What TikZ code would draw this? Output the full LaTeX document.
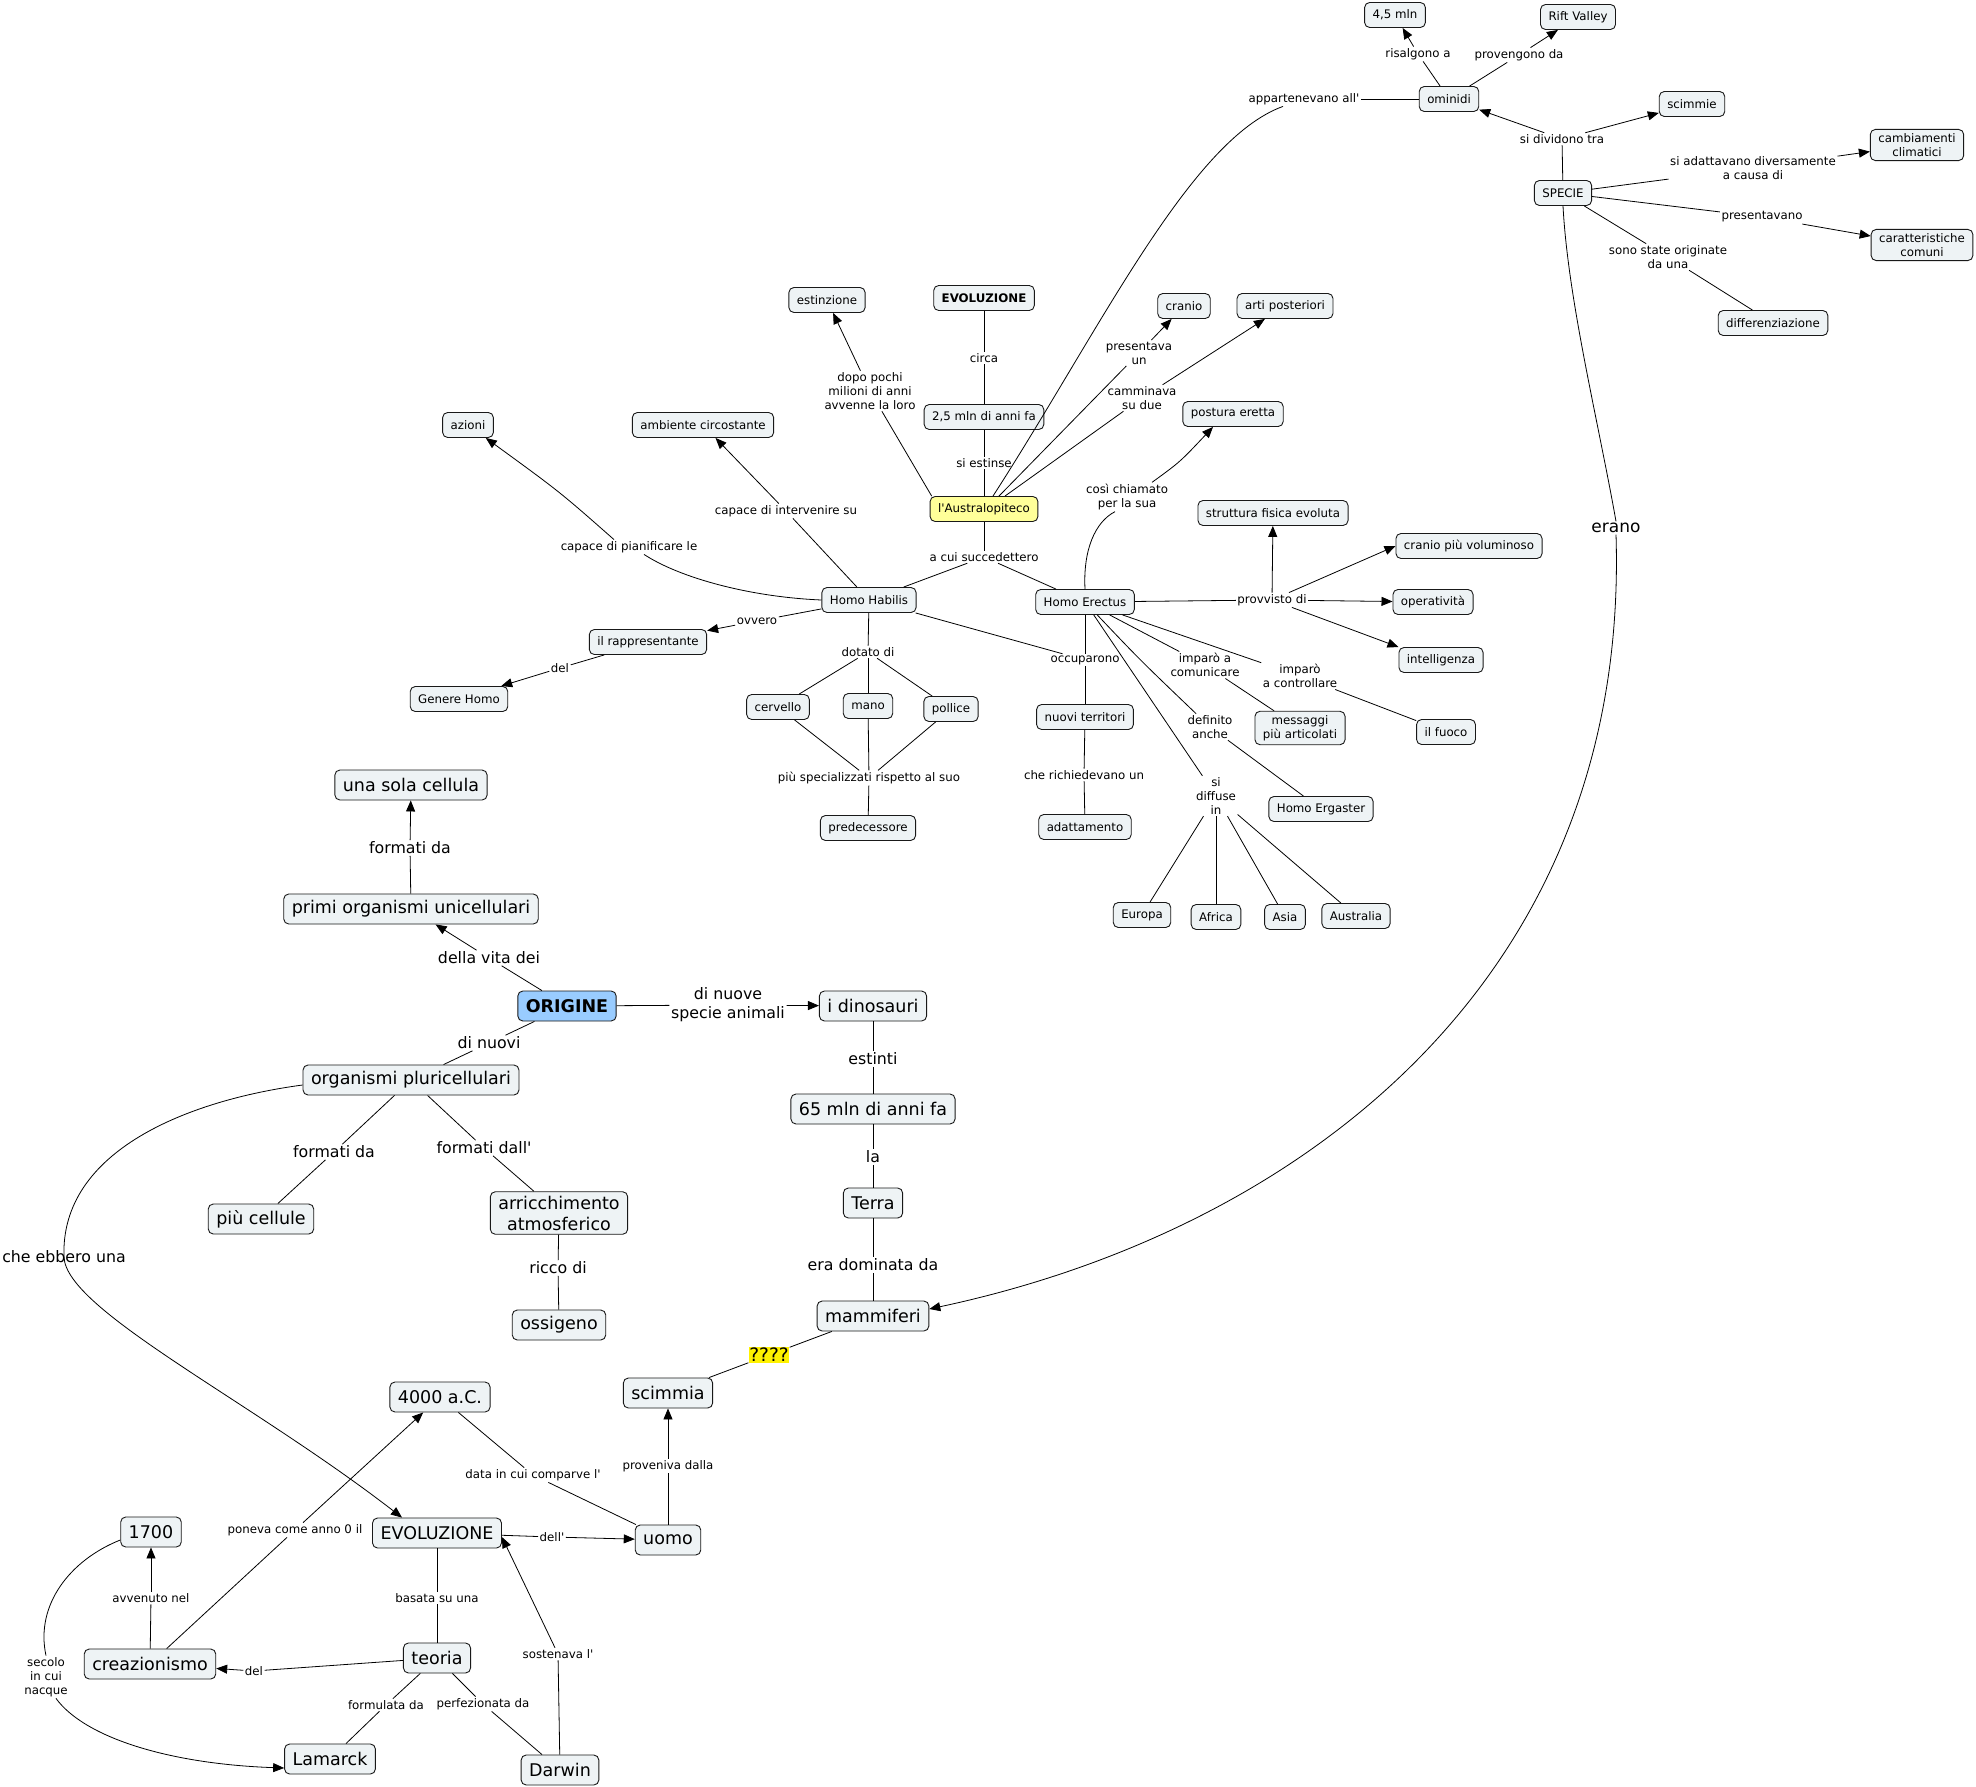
\documentclass[tikz,border=0pt]{standalone}
\usepackage{fontspec}
\setmainfont{DejaVu Sans}
\usetikzlibrary{arrows.meta}
\definecolor{nodefill}{HTML}{EEF3F5}
\definecolor{origfill}{HTML}{99CCFF}
\definecolor{austrfill}{HTML}{FFFF99}
\newcommand\fS{\fontsize{11.8pt}{14pt}\selectfont}
\newcommand\fL{\fontsize{17.5pt}{21pt}\selectfont}
\newcommand\fLl{\fontsize{15.8pt}{19pt}\selectfont}
\newcommand\ap{\textquotesingle}
\begin{document}
\begin{tikzpicture}[x=1pt,y=-1pt,
  base/.style={draw=black!90, line width=0.9pt, rounded corners=5pt, fill=nodefill, inner xsep=8pt, inner ysep=4pt, align=center},
  sbox/.style={base, font=\fS, minimum height=25pt},
  lbox/.style={base, font=\fL, minimum height=30pt},
  slab/.style={font=\fS, inner sep=1.5pt, align=center},
  llab/.style={font=\fLl, inner sep=1.5pt, align=center},
  conn/.style={draw=black, line width=0.8pt},
  arr/.style={conn, -{Triangle[length=11pt,width=9pt]}}]
\useasboundingbox (0,0) rectangle (1976,1787);
\fill[white] (0,0) rectangle (1976,1787);

% ---------- small nodes ----------
\node[sbox] (n45) at (1395,15) {4,5 mln};
\node[sbox] (rift) at (1578,17) {Rift Valley};
\node[sbox] (omin) at (1449,99) {ominidi};
\node[sbox] (scimmie) at (1692,104) {scimmie};
\node[sbox] (specie) at (1563,193) {SPECIE};
\node[sbox] (camb) at (1917,145) {cambiamenti\\climatici};
\node[sbox] (carat) at (1922,245) {caratteristiche\\comuni};
\node[sbox] (diff) at (1773,323) {differenziazione};
\node[sbox] (arti) at (1285,306) {arti posteriori};
\node[sbox] (estinz) at (827,300) {estinzione};
\node[sbox, font=\fS\bfseries] (evoT) at (984,298) {EVOLUZIONE};
\node[sbox] (mln25) at (984,417) {2,5 mln di anni fa};
\node[sbox, fill=austrfill] (austr) at (984,509) {l\ap Australopiteco};
\node[sbox] (cranio) at (1184,306) {cranio};
\node[sbox] (postura) at (1233,414) {postura eretta};
\node[sbox] (strutt) at (1273,513) {struttura fisica evoluta};
\node[sbox] (cranioV) at (1469,546) {cranio più voluminoso};
\node[sbox] (operat) at (1433,602) {operatività};
\node[sbox] (intell) at (1441,660) {intelligenza};
\node[sbox] (habilis) at (869,600) {Homo Habilis};
\node[sbox] (erectus) at (1085,602) {Homo Erectus};
\node[sbox] (azioni) at (468,425) {azioni};
\node[sbox] (ambiente) at (703,425) {ambiente circostante};
\node[sbox] (rappr) at (648,642) {il rappresentante};
\node[sbox] (genere) at (459,699) {Genere Homo};
\node[sbox] (cervello) at (778,707) {cervello};
\node[sbox] (mano) at (868,706) {mano};
\node[sbox] (pollice) at (951,709) {pollice};
\node[sbox] (predec) at (868,828) {predecessore};
\node[sbox] (nuovi) at (1085,717) {nuovi territori};
\node[sbox] (adatt) at (1085,827) {adattamento};
\node[sbox] (messaggi) at (1300,728) {messaggi\\più articolati};
\node[sbox] (fuoco) at (1446,732) {il fuoco};
\node[sbox] (ergaster) at (1321,809) {Homo Ergaster};
\node[sbox] (europa) at (1142,915) {Europa};
\node[sbox] (africa) at (1216,917) {Africa};
\node[sbox] (asia) at (1285,917) {Asia};
\node[sbox] (australia) at (1356,916) {Australia};

% ---------- large nodes ----------
\node[lbox] (sola) at (411,785) {una sola cellula};
\node[lbox] (primi) at (411,909) {primi organismi unicellulari};
\node[lbox, fill=origfill, font=\fL\bfseries] (origine) at (567,1006) {ORIGINE};
\node[lbox] (pluri) at (411,1080) {organismi pluricellulari};
\node[lbox] (dino) at (873,1006) {i dinosauri};
\node[lbox] (mln65) at (873,1109) {65 mln di anni fa};
\node[lbox] (terra) at (873,1203) {Terra};
\node[lbox] (mammi) at (873,1316) {mammiferi};
\node[lbox] (piuc) at (261,1219) {più cellule};
\node[lbox] (arricc) at (559,1213) {arricchimento\\atmosferico};
\node[lbox] (ossig) at (559,1325) {ossigeno};
\node[lbox] (scimmia) at (668,1393) {scimmia};
\node[lbox] (a4000) at (440,1397) {4000 a.C.};
\node[lbox] (y1700) at (151,1532) {1700};
\node[lbox] (evoB) at (437,1533) {EVOLUZIONE};
\node[lbox] (uomo) at (668,1540) {uomo};
\node[lbox] (teoria) at (437,1658) {teoria};
\node[lbox] (creaz) at (150,1664) {creazionismo};
\node[lbox] (lamarck) at (330,1759) {Lamarck};
\node[lbox] (darwin) at (560,1770) {Darwin};

% ---------- linking phrases ----------
\node[slab] (lRisal) at (1418,54) {risalgono a};
\node[slab] (lProv) at (1519,55) {provengono da};
\node[slab] (lAppart) at (1304,99) {appartenevano all\ap};
\node[slab] (lDivid) at (1562,139) {si dividono tra};
\node[slab] (lAdatt) at (1753,168) {si adattavano diversamente\\a causa di};
\node[slab] (lPres) at (1762,217) {presentavano};
\node[slab] (lOrig) at (1668,257) {sono state originate\\da una};
\node[font=\fontsize{17pt}{20pt}\selectfont, inner sep=1.5pt] (lErano) at (1616,528) {erano};
\node[slab] (lDopo) at (870,391) {dopo pochi\\milioni di anni\\avvenne la loro};
\node[slab] (lCirca) at (984,358) {circa};
\node[slab] (lEstinse) at (984,463) {si estinse};
\node[slab] (lPresUn) at (1139,353) {presentava\\un};
\node[slab] (lCammin) at (1142,398) {camminava\\su due};
\node[slab] (lCosi) at (1127,497) {così chiamato\\per la sua};
\node[slab] (lSucc) at (984,557) {a cui succedettero};
\node[slab] (lInterv) at (786,511) {capace di intervenire su};
\node[slab] (lPianif) at (629,547) {capace di pianificare le};
\node[slab] (lOvvero) at (757,621) {ovvero};
\node[slab] (lDel1) at (560,668) {del};
\node[slab] (lDotato) at (868,652) {dotato di};
\node[slab] (lSpec) at (869,778) {più specializzati rispetto al suo};
\node[slab] (lOccup) at (1085,660) {occuparono};
\node[slab] (lRich) at (1084,775) {che richiedevano un};
\node[slab] (lProvv) at (1272,600) {provvisto di};
\node[slab] (lComun) at (1205,665) {imparò a\\comunicare};
\node[slab] (lContr) at (1300,676) {imparò\\a controllare};
\node[slab] (lDefin) at (1210,727) {definito\\anche};
\node[slab] (lDiff) at (1216,796) {si\\diffuse\\in};

\node[llab] (lForm1) at (410,848) {formati da};
\node[llab] (lVita) at (489,958) {della vita dei};
\node[llab] (lNuove) at (728,1005) {di nuove\\specie animali};
\node[llab] (lNuovi) at (489,1043) {di nuovi};
\node[llab] (lEstinti) at (873,1059) {estinti};
\node[llab] (lLa) at (873,1157) {la};
\node[llab] (lDomin) at (873,1265) {era dominata da};
\node[llab] (lForm2) at (334,1152) {formati da};
\node[llab] (lFormDall) at (484,1148) {formati dall\ap};
\node[llab] (lRicco) at (558,1268) {ricco di};
\node[llab] (lEbbero) at (64,1257) {che ebbero una};
\node[fill=yellow, font=\fontsize{18.5pt}{22pt}\selectfont, inner sep=0.8pt, text height=13.5pt, text depth=0pt] (lQ) at (769,1355) {????};
\node[slab] (lPoneva) at (295,1530) {poneva come anno 0 il};
\node[slab] (lData) at (533,1475) {data in cui comparve l\ap};
\node[slab] (lProven) at (668,1466) {proveniva dalla};
\node[slab] (lDell) at (552,1537) {dell\ap};
\node[slab] (lBasata) at (437,1598) {basata su una};
\node[slab] (lDel2) at (254,1671) {del};
\node[slab] (lAvv) at (151,1598) {avvenuto nel};
\node[slab] (lSecolo) at (46,1677) {secolo\\in cui\\nacque};
\node[slab] (lFormul) at (386,1705) {formulata da};
\node[slab] (lPerf) at (483,1704) {perfezionata da};
\node[slab] (lSost) at (558,1654) {sostenava l\ap};

% ---------- connectors: top right ----------
\draw[conn] (omin) -- (lRisal); \draw[arr] (lRisal) -- (n45);
\draw[conn] (omin) -- (lProv); \draw[arr] (lProv) -- (rift);
\draw[conn] (lAppart) -- (omin);
\draw[conn] (specie) -- (lDivid); \draw[arr] (lDivid) -- (omin); \draw[arr] (lDivid) -- (scimmie);
\draw[conn] (specie) -- (lAdatt); \draw[arr] (lAdatt) -- (camb);
\draw[conn] (specie) -- (lPres); \draw[arr] (lPres) -- (carat);
\draw[conn] (specie) -- (lOrig); \draw[conn] (lOrig) -- (diff);
\draw[conn] (specie.south) .. controls (1568,300) and (1598,420) .. (lErano.north);
\draw[arr] (lErano.south) .. controls (1630,980) and (1300,1230) .. ([yshift=7pt]mammi.east);

% ---------- Australopiteco ----------
\draw[conn] ([xshift=9pt]austr.north) .. controls (1100,330) and (1190,140) .. ([xshift=-21pt]lAppart.south);
\draw[conn] (evoT) -- (lCirca); \draw[conn] (lCirca) -- (mln25);
\draw[conn] (mln25) -- (lEstinse); \draw[conn] (lEstinse) -- (austr);
\draw[conn] ([xshift=2pt]austr.north west) -- (lDopo); \draw[arr] (lDopo) -- (estinz);
\draw[conn] ([xshift=15pt]austr.north) -- (lPresUn); \draw[arr] (lPresUn) -- (cranio);
\draw[conn] ([xshift=21pt]austr.north) -- (lCammin); \draw[arr] (lCammin) -- (arti);
\draw[conn] (austr) -- (lSucc); \draw[conn] (lSucc) -- (habilis); \draw[conn] (lSucc) -- (erectus);

% ---------- Homo Habilis ----------
\draw[conn] (habilis) -- (lInterv); \draw[arr] (lInterv) -- (ambiente);
\draw[conn] (habilis.west) .. controls (750,597) and (680,578) .. ([xshift=15pt]lPianif.south);
\draw[arr] ([xshift=-15pt]lPianif.north) .. controls (560,492) .. (azioni);
\draw[conn] (habilis) -- (lOvvero); \draw[arr] (lOvvero) -- (rappr);
\draw[conn] (rappr) -- (lDel1); \draw[arr] (lDel1) -- (genere);
\draw[conn] (habilis) -- (lDotato);
\draw[conn] (lDotato) -- (cervello); \draw[conn] (lDotato) -- (mano); \draw[conn] (lDotato) -- (pollice);
\draw[conn] (cervello) -- (lSpec); \draw[conn] (mano) -- (lSpec); \draw[conn] (pollice) -- (lSpec);
\draw[conn] (lSpec) -- (predec);
\draw[conn] (habilis) -- (lOccup); \draw[conn] (erectus) -- (lOccup); \draw[conn] (lOccup) -- (nuovi);
\draw[conn] (nuovi) -- (lRich); \draw[conn] (lRich) -- (adatt);

% ---------- Homo Erectus ----------
\draw[conn] (erectus.north) .. controls (1083,550) and (1095,522) .. ([xshift=-12pt]lCosi.south);
\draw[arr] ([xshift=25pt]lCosi.north) .. controls (1180,462) .. ([xshift=-20pt]postura.south);
\draw[conn] (erectus) -- (lProvv);
\draw[arr] (lProvv) -- (strutt);
\draw[arr] (lProvv) -- (cranioV.west);
\draw[arr] (lProvv) -- (operat);
\draw[arr] (lProvv) -- (intell.north west);
\draw[conn] (erectus) -- (lComun); \draw[conn] (lComun) -- (messaggi);
\draw[conn] (erectus) -- (lContr); \draw[conn] (lContr) -- (fuoco);
\draw[conn] (erectus) .. controls (1140,660) .. (lDefin); \draw[conn] (lDefin) -- (ergaster);
\draw[conn] (erectus) -- (lDiff);
\draw[conn] (lDiff) -- (europa); \draw[conn] (lDiff) -- (africa);
\draw[conn] (lDiff) -- (asia); \draw[conn] (lDiff) -- (australia);

% ---------- ORIGINE part ----------
\draw[conn] (primi) -- (lForm1); \draw[arr] (lForm1) -- (sola);
\draw[conn] (origine) -- (lVita); \draw[arr] (lVita) -- (primi);
\draw[conn] (origine) -- (lNuove); \draw[arr] (lNuove) -- (dino);
\draw[conn] (origine) -- (lNuovi); \draw[conn] (lNuovi) -- (pluri);
\draw[conn] (pluri) -- (lForm2); \draw[conn] (lForm2) -- (piuc);
\draw[conn] (pluri) -- (lFormDall); \draw[conn] (lFormDall) -- (arricc);
\draw[conn] (arricc) -- (lRicco); \draw[conn] (lRicco) -- (ossig);
\draw[conn] (dino) -- (lEstinti); \draw[conn] (lEstinti) -- (mln65);
\draw[conn] (mln65) -- (lLa); \draw[conn] (lLa) -- (terra);
\draw[conn] (terra) -- (lDomin); \draw[conn] (lDomin) -- (mammi);
\draw[conn] (mammi) -- (lQ); \draw[conn] (lQ) -- (scimmia);
\draw[conn] (uomo) -- (lProven); \draw[arr] (lProven) -- (scimmia);
\draw[conn] (a4000) -- (lData); \draw[conn] (lData) -- (uomo);
\draw[conn] (evoB) -- (lDell); \draw[arr] (lDell) -- (uomo);
\draw[conn] (creaz) -- (lPoneva); \draw[arr] (lPoneva) -- (a4000);
\draw[conn] (creaz) -- (lAvv); \draw[arr] (lAvv) -- (y1700);
\draw[conn] (evoB) -- (lBasata); \draw[conn] (lBasata) -- (teoria);
\draw[conn] (teoria) -- (lDel2); \draw[arr] (lDel2) -- (creaz);
\draw[conn] (teoria) -- (lFormul); \draw[conn] (lFormul) -- (lamarck);
\draw[conn] (teoria) -- (lPerf); \draw[conn] (lPerf) -- (darwin);
\draw[conn] (darwin) -- (lSost); \draw[arr] (lSost) -- ([yshift=-4pt]evoB.east);
\draw[conn] ([yshift=-8pt]y1700.west) .. controls (70,1560) and (35,1605) .. (lSecolo.north);
\draw[arr] ([xshift=10pt]lSecolo.south) .. controls (85,1738) and (170,1764) .. ([yshift=-9pt]lamarck.west);
\draw[arr] ([yshift=-5pt]pluri.west) .. controls (190,1100) and (60,1150) .. (lEbbero.center)
   .. controls (66,1310) and (250,1400) .. ([xshift=-35pt]evoB.north);
\end{tikzpicture}
\end{document}
